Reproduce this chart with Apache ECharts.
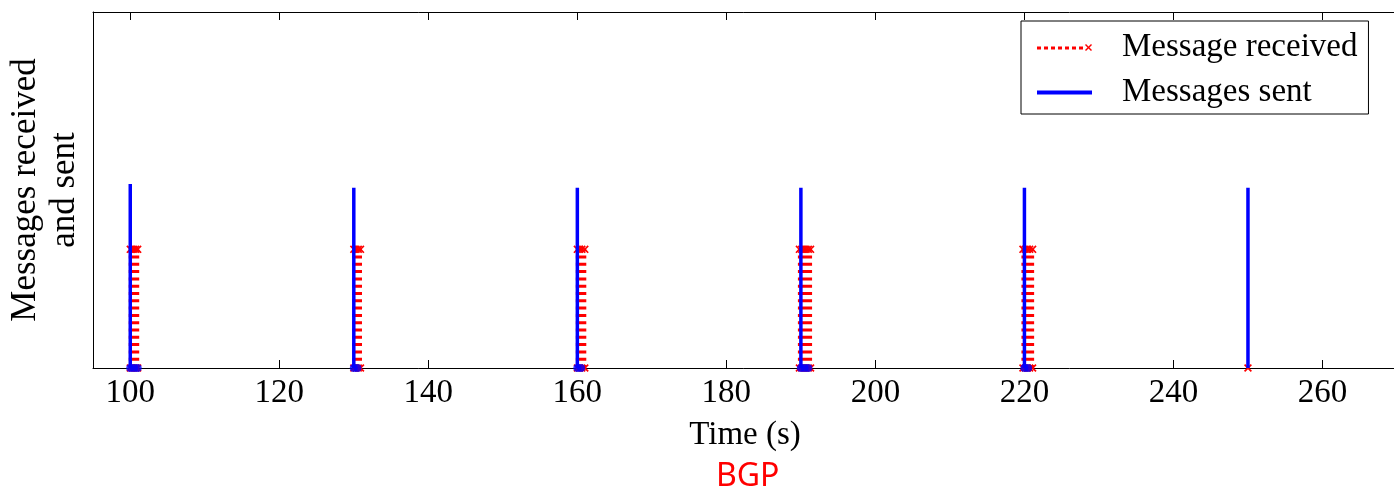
<!DOCTYPE html>
<html>
<head>
<meta charset="utf-8">
<style>html,body{margin:0;padding:0;background:#fff;}#c{width:1394px;height:491px;}</style>
<script src="https://cdn.jsdelivr.net/npm/echarts@6/dist/echarts.min.js"></script>
</head>
<body>
<div id="c"></div>
<script>
// ---- data ----
const xTickValues = [100, 120, 140, 160, 180, 200, 220, 240, 260];
const sentTimes = [100, 130, 160, 190, 220, 250];
const sentHeights = [1.55, 1.52, 1.52, 1.52, 1.52, 1.52];
// small markers at the bottom of each sent burst
const sentBaseTimes = [100.0, 100.5, 101.0, 130.0, 130.5, 160.0, 160.5, 190.0, 190.5, 191.0, 220.0, 220.5];
// received bursts: time of each up-stroke (value 1)
const received100 = [100.0, 100.25, 100.5, 100.75, 101.0];
const received130 = [130.0, 130.3, 130.6, 130.9];
const received160 = [160.0, 160.3, 160.6, 161.0];
const received190 = [189.8, 190.1, 190.4, 190.7, 191.0, 191.3];
const received220 = [219.8, 220.1, 220.4, 220.7, 221.1];
const received250 = [250.0];
const receivedLevel = 1;

// ---- build series data ----
function strokes(times, level) {
  const out = [];
  times.forEach(t => { out.push([t, 0]); if (level > 0) out.push([t, level]); out.push(null); });
  return out;
}
const receivedData = []
  .concat(strokes(received100, receivedLevel))
  .concat(strokes(received130, receivedLevel))
  .concat(strokes(received160, receivedLevel))
  .concat(strokes(received190, receivedLevel))
  .concat(strokes(received220, receivedLevel))
  .concat(strokes(received250, 0));
const sentData = [];
sentTimes.forEach((t, i) => { sentData.push([t, 0], [t, sentHeights[i]], null); });
const sentBaseData = sentBaseTimes.map(t => [t, 0]);

const serif = '"Liberation Serif", "Times New Roman", serif';
const xMark = 'path://M0,1.5L1.5,0L5,3.5L8.5,0L10,1.5L6.5,5L10,8.5L8.5,10L5,6.5L1.5,10L0,8.5L3.5,5Z';
// legend icons: dotted line ending in a small x, and a solid line
const receivedIcon = 'path://M0,2.5h4v3h-4zM7,2.5h4v3h-4zM14,2.5h4v3h-4zM21,2.5h4v3h-4zM28,2.5h4v3h-4zM35,2.5h4v3h-4zM42,2.5h4v3h-4z' +
  'M48,1L49,0L51.5,2.5L54,0L55,1L52.5,3.5L55,6L54,7L51.5,4.5L49,7L48,6L50.5,3.5Z';
const sentIcon = 'path://M0,0H55V4H0Z';

const chart = echarts.init(document.getElementById('c'), null, {renderer: 'canvas'});
chart.setOption({
  animation: false,
  backgroundColor: '#fff',
  grid: {left: 93, right: -3, top: 12, bottom: 123, containLabel: false, outerBoundsMode: 'none'},
  xAxis: [{
    type: 'value', position: 'bottom', min: 95, max: 270,
    name: 'Time (s)', nameLocation: 'middle', nameGap: 51,
    nameTextStyle: {fontFamily: serif, fontSize: 33, color: '#000'},
    axisLine: {show: true, lineStyle: {color: '#000', width: 1}},
    axisTick: {show: true, inside: true, length: 8, customValues: xTickValues, lineStyle: {color: '#000'}},
    axisLabel: {show: true, customValues: xTickValues, margin: 9, fontFamily: serif, fontSize: 33, color: '#000'},
    splitLine: {show: false}
  }, {
    type: 'value', position: 'top', min: 95, max: 270,
    axisLine: {show: true, onZero: false, lineStyle: {color: '#000', width: 1}},
    axisTick: {show: true, inside: true, length: 8, customValues: xTickValues, lineStyle: {color: '#000'}},
    axisLabel: {show: false},
    splitLine: {show: false}
  }],
  yAxis: {
    type: 'value', min: 0, max: 3,
    name: 'Messages received\nand sent', nameLocation: 'middle', nameRotate: 90, nameGap: 9,
    nameTextStyle: {fontFamily: serif, fontSize: 35, color: '#000', lineHeight: 39, align: 'center'},
    axisLine: {show: true, lineStyle: {color: '#000', width: 1}},
    axisTick: {show: false}, axisLabel: {show: false}, splitLine: {show: false}
  },
  legend: {
    orient: 'vertical', left: 1021, top: 21,
    data: [{name: 'Message received', icon: receivedIcon}, {name: 'Messages sent', icon: sentIcon}],
    symbolKeepAspect: true,
    backgroundColor: '#fff', borderColor: '#000', borderWidth: 1, borderRadius: 0,
    padding: [10, 11, 5, 16], itemGap: 12, itemWidth: 55, itemHeight: 30,
    textStyle: {fontFamily: serif, fontSize: 33, color: '#000', lineHeight: 30, padding: [0, 0, 0, 25]}
  },
  graphic: [{
    type: 'text', left: 716, top: 461,
    style: {text: 'BGP', fill: '#ff0000', font: '32px "Noto Sans", "DejaVu Sans", sans-serif'}
  }],
  series: [{
    name: 'Message received', type: 'line', xAxisIndex: 0, data: receivedData, connectNulls: false,
    symbol: xMark, symbolSize: 8, showSymbol: true,
    lineStyle: {color: '#ff0000', width: 3, type: [3, 4.3]},
    itemStyle: {color: '#ff0000'}, z: 2
  }, {
    name: 'Messages sent', type: 'line', xAxisIndex: 0, data: sentData, connectNulls: false,
    showSymbol: false, symbol: 'none',
    lineStyle: {color: '#0000ff', width: 3.5},
    itemStyle: {color: '#0000ff'}, z: 3
  }, {
    name: 'sentBase', type: 'scatter', xAxisIndex: 0, data: sentBaseData,
    symbol: 'circle', symbolSize: 8, itemStyle: {color: '#0000ff'}, z: 4
  }]
});
</script>
</body>
</html>
